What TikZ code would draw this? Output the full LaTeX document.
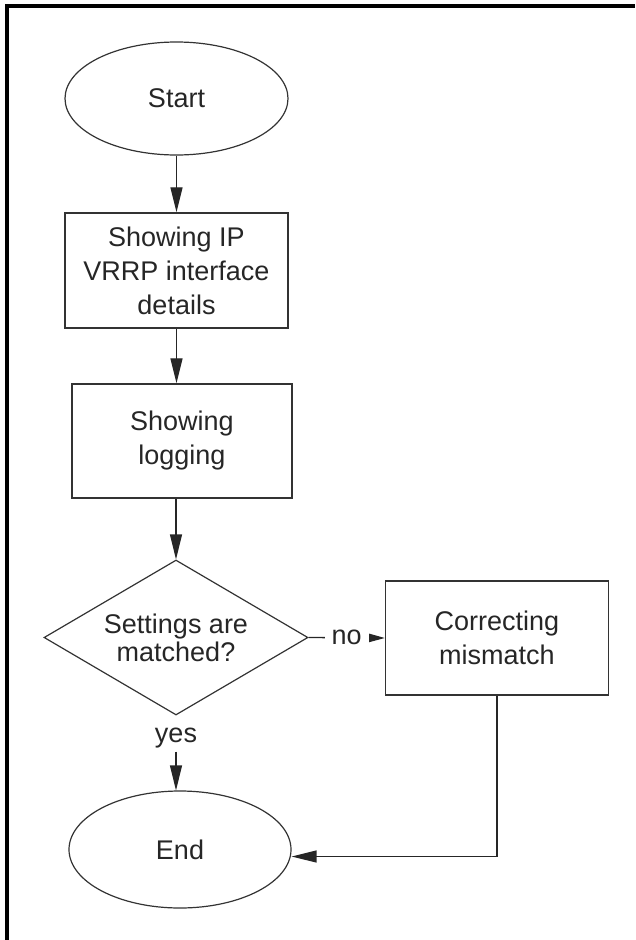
\documentclass[tikz,border=0pt]{standalone}
\usepackage{fontspec}
\setmainfont{Liberation Sans}
\usetikzlibrary{shapes.geometric,arrows.meta}
\tikzset{
  lbl/.style={font=\fontsize{27}{34}\selectfont, text=black!85, align=center},
  proc/.style={lbl, draw=black!80, line width=1.4pt, rectangle, inner sep=0pt},
  term/.style={lbl, draw=black!80, line width=1.2pt, ellipse, inner sep=0pt},
  deci/.style={lbl, draw=black!80, line width=1.2pt, diamond, shape aspect=1.7, inner sep=0pt},
  arr/.style={draw=black!85, line width=1.3pt, -{Triangle[length=25pt,width=12pt]}},
  sarr/.style={draw=black!85, line width=1.3pt, -{Triangle[length=17pt,width=9pt]}},
  frame/.style={line width=4pt, black}
}
\begin{document}
\begin{tikzpicture}[x=1pt,y=-1pt]
\useasboundingbox (0,0) rectangle (635,940);
\draw[frame] (5,5.5) -- (635,5.5);
\draw[frame] (7,5) -- (7,940);

\node[term, minimum width=223pt, minimum height=113pt] (start) at (176.5,98.5) {\raisebox{-3pt}{Start}};
\node[proc, minimum width=223pt, minimum height=115pt] (s1) at (176.5,270.5) {Showing IP\\VRRP interface\\details};
\node[proc, minimum width=220pt, minimum height=114pt] (s2) at (182,441) {Showing\\logging};
\node[deci, minimum width=264pt, minimum height=155pt] (dec) at (176,637.5) {\raisebox{-4pt}{\shortstack{Settings are\\matched?}}};
\node[proc, minimum width=223pt, minimum height=114pt] (corr) at (497,638) {Correcting\\mismatch};
\node[lbl] (yes) at (176,738) {yes};
\node[term, minimum width=222pt, minimum height=117pt] (end) at (180,849.5) {\raisebox{-3pt}{End}};

\draw[arr] (start.south) -- (s1.north);
\draw[arr] (s1.south) -- (s1.south |- s2.north);
\draw[arr] (dec.north |- s2.south) -- (dec.north);
\draw[sarr] (dec.east) -- node[lbl, fill=white, inner xsep=7pt, inner ysep=0pt, pos=0.5] {no} (corr.west);
\draw[arr] (yes.south) -- (end.north -| yes.south);
\draw[arr] (corr.south) |- ([yshift=-7pt]end.east);
\end{tikzpicture}
\end{document}
